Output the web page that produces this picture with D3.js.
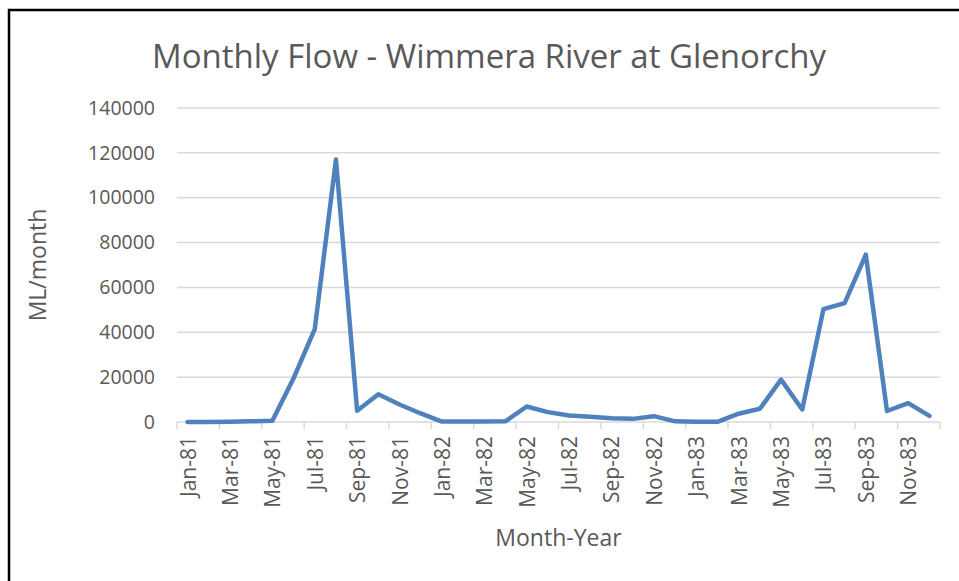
<!DOCTYPE html>
<html>
<head>
<meta charset="utf-8">
<script src="https://cdn.jsdelivr.net/npm/d3@7"></script>
<style>
  body { margin: 0; background: #fff; }
  text { font-family: "Open Sans", sans-serif; fill: #595959; }
</style>
</head>
<body>
<div id="chart"></div>
<script>
// Monthly flow values (ML/month)
const months = ["Jan-81","Feb-81","Mar-81","Apr-81","May-81","Jun-81","Jul-81","Aug-81","Sep-81","Oct-81","Nov-81","Dec-81",
                "Jan-82","Feb-82","Mar-82","Apr-82","May-82","Jun-82","Jul-82","Aug-82","Sep-82","Oct-82","Nov-82","Dec-82",
                "Jan-83","Feb-83","Mar-83","Apr-83","May-83","Jun-83","Jul-83","Aug-83","Sep-83","Oct-83","Nov-83","Dec-83"];
const flow = [0, 0, 100, 300, 600, 19500, 41400, 117000, 5000, 12400, 7800, 3800,
              200, 200, 200, 300, 6900, 4400, 2900, 2300, 1700, 1400, 2600, 300,
              100, 100, 3700, 5900, 18900, 5600, 50300, 53000, 74600, 4900, 8400, 2700];
const yTicks = [0, 20000, 40000, 60000, 80000, 100000, 120000, 140000];

const width = 959, height = 581;
const margin = { left: 177, right: 19, top: 108, bottom: 159 };

const svg = d3.select("#chart").append("svg")
    .attr("width", width)
    .attr("height", height);

// outer frame
svg.append("path")
    .attr("d", `M9,${height + 5}V10H${width + 5}`)
    .attr("fill", "none")
    .attr("stroke", "#000")
    .attr("stroke-width", 2.5);

const x = d3.scaleBand()
    .domain(months)
    .range([margin.left, width - margin.right])
    .padding(0);

const y = d3.scaleLinear()
    .domain([0, 140000])
    .range([height - margin.bottom, margin.top]);

// horizontal gridlines
svg.append("g")
    .selectAll("line")
    .data(yTicks.slice(1))
    .enter().append("line")
    .attr("x1", margin.left)
    .attr("x2", width - margin.right)
    .attr("y1", d => y(d))
    .attr("y2", d => y(d))
    .attr("stroke", "#d9d9d9")
    .attr("stroke-width", 1.5);

// y axis labels
const yAxis = svg.append("g")
    .attr("transform", `translate(${margin.left},0)`)
    .call(d3.axisLeft(y).tickValues(yTicks).tickSize(0).tickPadding(22).tickFormat(d3.format("d")));
yAxis.select(".domain").remove();
yAxis.selectAll("text")
    .style("font-size", "19.5px")
    .attr("fill", "#595959");

// x axis line and tick marks (every second month boundary)
const xBase = y(0);
svg.append("line")
    .attr("x1", margin.left)
    .attr("x2", width - margin.right)
    .attr("y1", xBase)
    .attr("y2", xBase)
    .attr("stroke", "#d9d9d9")
    .attr("stroke-width", 1.5);

const tickMonths = months.filter((m, i) => i % 2 === 0);
svg.append("g")
    .selectAll("line")
    .data(tickMonths.concat([null]))
    .enter().append("line")
    .attr("x1", d => d === null ? width - margin.right : x(d))
    .attr("x2", d => d === null ? width - margin.right : x(d))
    .attr("y1", xBase)
    .attr("y2", xBase + 7)
    .attr("stroke", "#d9d9d9")
    .attr("stroke-width", 1.5);

// x tick labels, rotated
svg.append("g")
    .selectAll("text")
    .data(tickMonths)
    .enter().append("text")
    .attr("transform", d => `translate(${x(d) + x.bandwidth() / 2 + 8},${xBase + 14}) rotate(-90)`)
    .attr("text-anchor", "end")
    .style("font-size", "21px")
    .text(d => d);

// the flow line
const line = d3.line()
    .x((d, i) => x(months[i]) + x.bandwidth() / 2)
    .y(d => y(d));

svg.append("path")
    .datum(flow)
    .attr("fill", "none")
    .attr("stroke", "#4f81bd")
    .attr("stroke-width", 4.5)
    .attr("stroke-linejoin", "round")
    .attr("stroke-linecap", "round")
    .attr("d", line);

// title
svg.append("text")
    .attr("x", 489)
    .attr("y", 68)
    .attr("text-anchor", "middle")
    .style("font-size", "33px")
    .text("Monthly Flow - Wimmera River at Glenorchy");

// axis titles
svg.append("text")
    .attr("transform", `translate(46,${(margin.top + xBase) / 2}) rotate(-90)`)
    .attr("text-anchor", "middle")
    .style("font-size", "23px")
    .text("ML/month");

svg.append("text")
    .attr("x", (margin.left + width - margin.right) / 2)
    .attr("y", 546)
    .attr("text-anchor", "middle")
    .style("font-size", "23px")
    .text("Month-Year");
</script>
</body>
</html>
